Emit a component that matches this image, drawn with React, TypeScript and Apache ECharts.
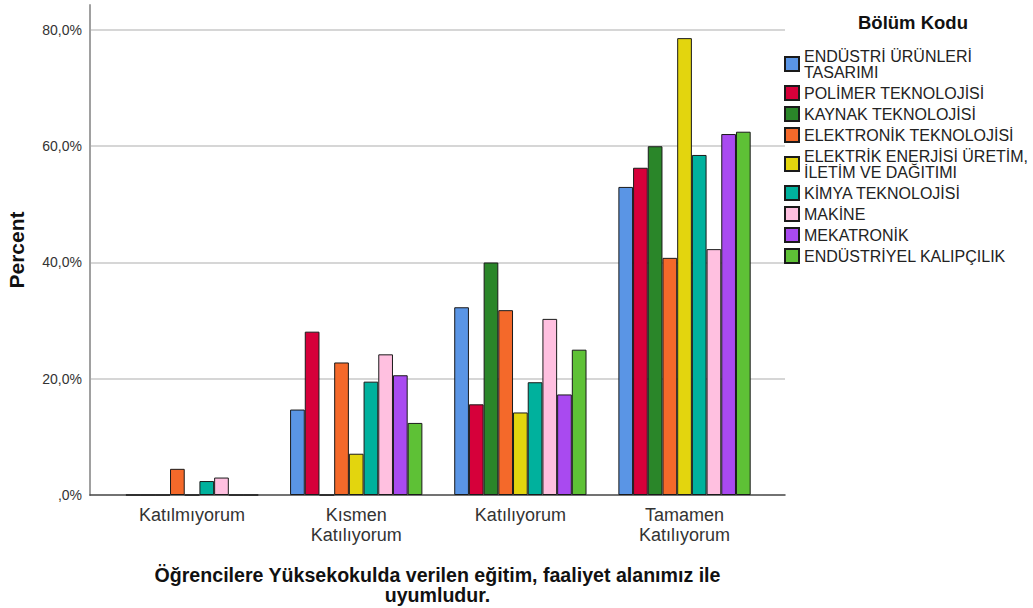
import React, { useEffect, useRef } from "react";
import * as echarts from "echarts";

const categories = ["Katılmıyorum", "Kısmen\nKatılıyorum", "Katılıyorum", "Tamamen\nKatılıyorum"];

const seriesNames = [
  "ENDÜSTRİ ÜRÜNLERİ\nTASARIMI",
  "POLİMER TEKNOLOJİSİ",
  "KAYNAK TEKNOLOJİSİ",
  "ELEKTRONİK TEKNOLOJİSİ",
  "ELEKTRİK ENERJİSİ ÜRETİM,\nİLETİM VE DAĞITIMI",
  "KİMYA TEKNOLOJİSİ",
  "MAKİNE",
  "MEKATRONİK",
  "ENDÜSTRİYEL KALIPÇILIK",
];

const endustriUrunleri = [0, 14.7, 32.3, 53.0];
const polimer = [0, 28.1, 15.6, 56.3];
const kaynak = [0, 0, 40.0, 60.0];
const elektronik = [4.5, 22.8, 31.8, 40.8];
const elektrik = [0, 7.1, 14.2, 78.6];
const kimya = [2.4, 19.5, 19.4, 58.5];
const makine = [3.0, 24.2, 30.3, 42.3];
const mekatronik = [0, 20.6, 17.3, 62.1];
const kalipcilik = [0, 12.4, 25.0, 62.5];

const seriesValues = [endustriUrunleri, polimer, kaynak, elektronik, elektrik, kimya, makine, mekatronik, kalipcilik];

const colors = ["#5A95E5", "#D6003A", "#2A8629", "#F4692A", "#E3D50E", "#00B19D", "#FFC0E0", "#A94AF0", "#5EC136"];

const yTickLabels: Record<number, string> = { 0: ",0%", 20: "20,0%", 40: "40,0%", 60: "60,0%", 80: "80,0%" };

const xTitle = "Öğrencilere Yüksekokulda verilen eğitim, faaliyet alanımız ile\nuyumludur.";
const yTitle = "Percent";
const legendTitle = "Bölüm Kodu";

const FONT = "'Liberation Sans', Arial, sans-serif";

export default function App() {
  const ref = useRef<HTMLDivElement>(null);
  useEffect(() => {
    if (!ref.current) return;
    const chart = echarts.init(ref.current, null, { renderer: "svg" });
    const yMax = 84.3;
    chart.setOption({
      animation: false,
      backgroundColor: "#ffffff",
      textStyle: { fontFamily: FONT },
      title: {
        text: legendTitle,
        left: 858,
        top: 13,
        padding: 0,
        textStyle: { fontFamily: FONT, fontSize: 18.5, fontWeight: "bold", color: "#111" },
      },
      legend: {
        orient: "vertical",
        left: 784,
        top: 48,
        padding: 0,
        itemWidth: 14,
        itemHeight: 14,
        itemGap: 5,
        icon: "rect",
        data: seriesNames,
        textStyle: { fontFamily: FONT, fontSize: 16, lineHeight: 16, color: "#222" },
      },
      grid: [
        { left: 90, right: 248, top: 5, bottom: 113, containLabel: false, outerBoundsMode: "none" },
        { left: 110, right: 266.4, top: 5, bottom: 113, containLabel: false, outerBoundsMode: "none" },
      ],
      xAxis: [
        {
          type: "value",
          gridIndex: 0,
          min: 0,
          max: 1,
          axisLine: { show: true, lineStyle: { color: "#444", width: 1.5 } },
          axisTick: { show: false },
          axisLabel: { show: false },
          splitLine: { show: false },
          name: xTitle,
          nameLocation: "middle",
          nameGap: 70,
          nameTextStyle: { fontFamily: FONT, fontSize: 19.6, fontWeight: "bold", color: "#111", lineHeight: 20 },
        },
        {
          type: "category",
          gridIndex: 1,
          data: categories,
          axisLine: { show: false },
          axisTick: { show: false },
          axisLabel: { fontFamily: FONT, fontSize: 18, color: "#333", lineHeight: 20, margin: 10 },
        },
      ],
      yAxis: [
        {
          type: "value",
          gridIndex: 0,
          min: 0,
          max: yMax,
          interval: 20,
          axisLine: { show: true, lineStyle: { color: "#a0a0a0", width: 2 } },
          axisTick: { show: false },
          axisLabel: {
            showMaxLabel: false,
            fontFamily: FONT,
            fontSize: 14,
            color: "#333",
            margin: 8,
            formatter: (v: number) => yTickLabels[Math.round(v)] ?? "",
          },
          splitLine: { show: true, showMinLine: false, showMaxLine: false, lineStyle: { color: "#c8c8c8", width: 1.5 } },
          name: yTitle,
          nameLocation: "middle",
          nameRotate: 90,
          nameGap: 63,
          nameTextStyle: { fontFamily: FONT, fontSize: 21, fontWeight: "bold", color: "#111" },
        },
        {
          type: "value",
          gridIndex: 1,
          min: 0,
          max: yMax,
          show: false,
          splitLine: { show: false },
        },
      ],
      series: seriesNames.map((name, i) => ({
        name,
        type: "bar",
        xAxisIndex: 1,
        yAxisIndex: 1,
        data: seriesValues[i],
        barWidth: 14.7,
        barGap: "0%",
        itemStyle: { color: colors[i], borderColor: "#1a1a1a", borderWidth: 1 },
      })),
    });
    return () => chart.dispose();
  }, []);
  return <div ref={ref} style={{ width: 1033, height: 608, position: "absolute", left: 0, top: 0 }} />;
}
